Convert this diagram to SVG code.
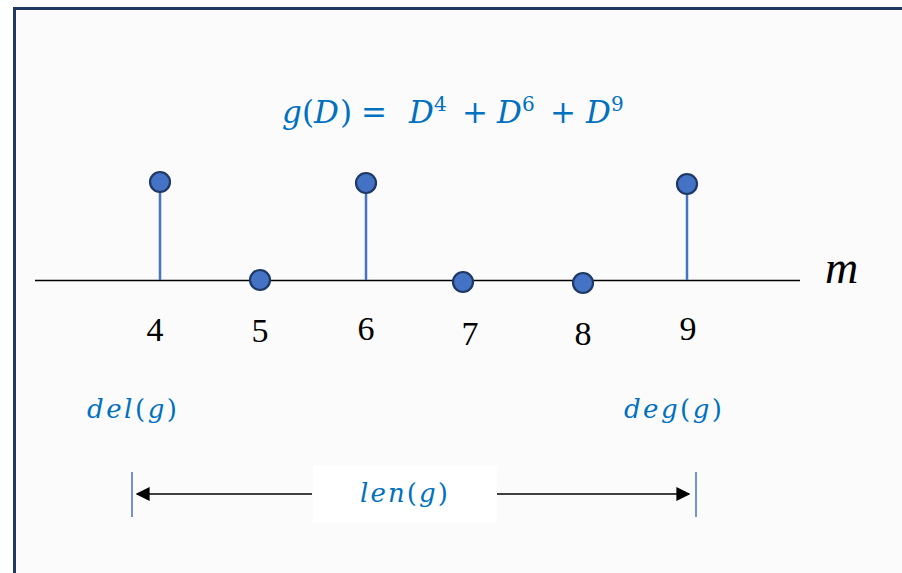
<svg xmlns="http://www.w3.org/2000/svg" width="902" height="573" viewBox="0 0 902 573">
<defs>
<style>
.dot{fill:#4472c4;stroke:#1f3864;stroke-width:2.2}
.stem{stroke:#4472c4;stroke-width:2.5}
.num{font-family:"Liberation Serif","DejaVu Serif",serif;font-size:34px;fill:#000;text-anchor:middle}
.math{font-family:"DejaVu Serif","Liberation Serif",serif;fill:#0070c0}
.it{font-style:italic}
.sup{font-size:20px}
.bar{stroke:#4472c4;stroke-width:1.5}
</style>
<marker id="ah" viewBox="0 0 10 10" refX="9" refY="5" markerWidth="14" markerHeight="14" markerUnits="userSpaceOnUse" orient="auto-start-reverse">
<path d="M0,0 L10,5 L0,10 z" fill="#000"/>
</marker>
</defs>
<rect x="0" y="0" width="902" height="573" fill="#ffffff"/>
<rect x="14.5" y="8.5" width="900" height="580" fill="#fbfbfb" stroke="#1f3864" stroke-width="3"/>
<g id="formula">
<text class="math" y="123" font-size="31"><tspan class="it" x="282">g</tspan><tspan x="302">(</tspan><tspan class="it" x="314">D</tspan><tspan x="340">)</tspan><tspan x="361">=</tspan><tspan class="it" x="409">D</tspan><tspan x="462">+</tspan><tspan class="it" x="497">D</tspan><tspan x="550">+</tspan><tspan class="it" x="586">D</tspan></text>
<text class="math sup" y="111"><tspan x="434">4</tspan><tspan x="522">6</tspan><tspan x="611">9</tspan></text>
</g>
<g id="connectors">
<line x1="35" y1="280.5" x2="800" y2="280.5" stroke="#000" stroke-width="1.5"/>
<line class="stem" x1="160" y1="190" x2="160" y2="280"/>
<line class="stem" x1="366" y1="191" x2="366" y2="280"/>
<line class="stem" x1="687" y1="192" x2="687" y2="280"/>
<line x1="312" y1="494" x2="137" y2="494" stroke="#000" stroke-width="1.5" marker-end="url(#ah)"/>
<line x1="497" y1="494" x2="689" y2="494" stroke="#000" stroke-width="1.5" marker-end="url(#ah)"/>
<line class="bar" x1="132" y1="472" x2="132" y2="517"/>
<line class="bar" x1="696" y1="472" x2="696" y2="517"/>
</g>
<g id="node-4"><circle class="dot" cx="160" cy="182" r="10"/><text class="num" x="155" y="341">4</text></g>
<g id="node-5"><circle class="dot" cx="260" cy="280" r="10"/><text class="num" x="260" y="342">5</text></g>
<g id="node-6"><circle class="dot" cx="366" cy="183" r="10"/><text class="num" x="366" y="340">6</text></g>
<g id="node-7"><circle class="dot" cx="463" cy="282" r="10"/><text class="num" x="470" y="345">7</text></g>
<g id="node-8"><circle class="dot" cx="583" cy="283" r="10"/><text class="num" x="583" y="345">8</text></g>
<g id="node-9"><circle class="dot" cx="687" cy="184" r="10"/><text class="num" x="688" y="340">9</text></g>
<g id="axis-label"><text x="825" y="283" font-family="Liberation Serif,serif" font-style="italic" font-size="46" fill="#000">m</text></g>
<g id="del"><text class="math" x="87" y="418" font-size="26" textLength="90" lengthAdjust="spacing"><tspan class="it">del</tspan>(<tspan class="it">g</tspan>)</text></g>
<g id="deg"><text class="math" x="624" y="418" font-size="26" textLength="98" lengthAdjust="spacing"><tspan class="it">deg</tspan>(<tspan class="it">g</tspan>)</text></g>
<g id="len">
<rect x="313" y="465" width="184" height="58" fill="#ffffff"/>
<text class="math" x="360" y="502" font-size="26" textLength="88" lengthAdjust="spacing"><tspan class="it">len</tspan>(<tspan class="it">g</tspan>)</text>
</g>
</svg>
